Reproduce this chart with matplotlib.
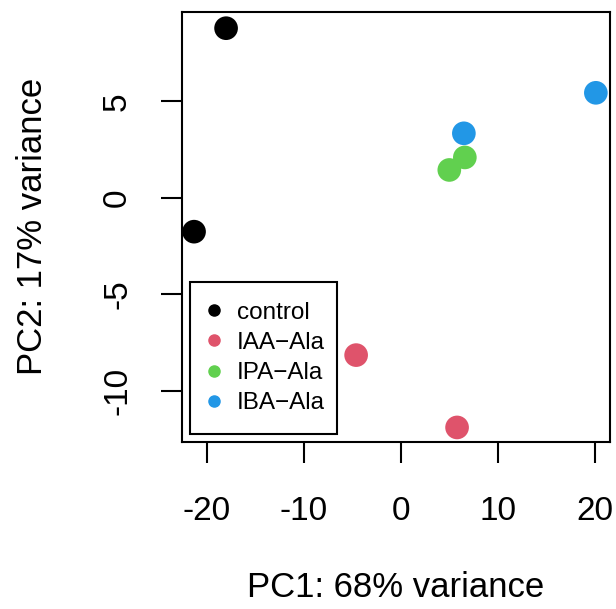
import matplotlib
matplotlib.use("Agg")
import matplotlib.pyplot as plt

plt.rcParams['font.family'] = ['Liberation Sans', 'DejaVu Sans']
plt.rcParams['axes.unicode_minus'] = False

# PCA scores
groups = ["control", "IAA\u2212Ala", "IPA\u2212Ala", "IBA\u2212Ala"]
colors = ["#000000", "#DF536B", "#61D04F", "#2297E6"]
pc1 = [[-18.0, -21.3], [-4.6, 5.8], [5.0, 6.6], [6.5, 20.1]]
pc2 = [[8.8, -1.75], [-8.15, -11.9], [1.45, 2.1], [3.35, 5.45]]

xticks = [-20, -10, 0, 10, 20]
yticks = [-10, -5, 0, 5]

fig = plt.figure(figsize=(6.16, 6.09), dpi=100)
ax = fig.add_axes([0.295, 0.2747, 0.695, 0.7056])

for g, c, xs, ys in zip(groups, colors, pc1, pc2):
    ax.scatter(xs, ys, s=290, color=c, edgecolors='none', zorder=3)

ax.set_xlim(-22.57, 21.54)
ax.set_ylim(-12.64, 9.64)
ax.set_xticks(xticks)
ax.set_xticklabels([str(t) for t in xticks])
ax.set_yticks(yticks)
ax.set_yticklabels([str(t) for t in yticks], rotation=90, va='center')

for s in ax.spines.values():
    s.set_linewidth(1.5)
ax.tick_params(axis='both', length=15, width=1.5, labelsize=24, direction='out')
ax.tick_params(axis='x', pad=24)
ax.tick_params(axis='y', pad=20)

ax.set_xlabel("PC1: 68% variance", fontsize=25, labelpad=32)
ax.set_ylabel("PC2: 17% variance", fontsize=25, labelpad=38)

handles = [plt.Line2D([], [], marker='o', linestyle='none', color=c,
                      markersize=8) for c in colors]
leg = ax.legend(handles, groups, loc='lower left',
                bbox_to_anchor=(0.019, 0.018, 0.343, 0.35), mode='expand',
                borderaxespad=0, fontsize=17.5, frameon=True, fancybox=False,
                edgecolor='black', framealpha=1, handlelength=0.33,
                handletextpad=0.78, labelspacing=0.33, borderpad=0.82)
leg.get_frame().set_linewidth(1.5)

fig.savefig("out.png", dpi=100)
